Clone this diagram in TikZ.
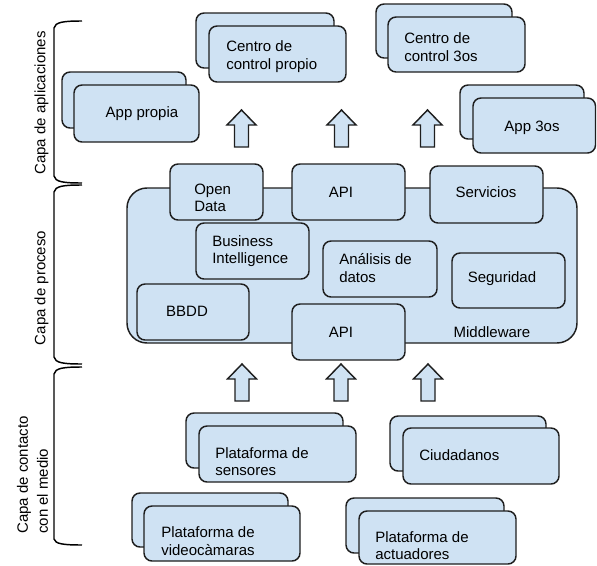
\documentclass[tikz,border=0pt]{standalone}
\usepackage{fontspec}
\setmainfont{Liberation Sans}
\usetikzlibrary{fit}
\definecolor{boxblue}{HTML}{CFE2F3}
\definecolor{linec}{HTML}{1E1E1E}
\tikzset{
  box/.style={draw=linec, fill=boxblue, line width=1.1pt, rounded corners=6pt, inner sep=0pt},
  bigbox/.style={box, rounded corners=15pt},
  txt/.style={font=\fontsize{11.25}{13.1}\selectfont, inner sep=0pt, align=left, text=black},
  sidetxt/.style={font=\fontsize{11.25}{15}\selectfont, inner sep=0pt, align=left, rotate=90, text=black},
  bracketline/.style={draw=black, line width=1.1pt},
  arrowshape/.style={draw=linec, fill=boxblue, line width=1.1pt, line join=miter},
  uparrow/.pic={\path[arrowshape] (0,0) -- (14.5,15) -- (7,15) -- (7,37) -- (-7,37) -- (-7,15) -- (-14.5,15) -- cycle;}
}
\begin{document}
\begin{tikzpicture}[x=0.75pt,y=-0.75pt]
\useasboundingbox (0,0) rectangle (597,565);

% brackets
\draw[bracketline] (82,21) .. controls (64,21) and (55,22) .. (54,28) -- (54,176) .. controls (55,182) and (64,183) .. (82,183);
\draw[bracketline] (82,185) .. controls (64,185) and (55,186) .. (54,192) -- (54,357) .. controls (55,363) and (64,364) .. (82,364);
\draw[bracketline] (82,367) .. controls (64,367) and (55,368) .. (54,374) -- (54,539) .. controls (55,544) and (64,545) .. (82,545);

\node[sidetxt] (capaApp) at (41.5,103) {Capa de aplicaciones};
\node[sidetxt] (capaProc) at (41.5,288) {Capa de proceso};
\node[sidetxt] (capaCont) at (32.5,475) {Capa de contacto\\con el medio};

% application layer
\node[box, fit={(62,72) (186,128)}] (appB) {};
\node[box, fit={(74,85) (199,142)}] (appF) {};
\node[txt] (appT) at (142,114) {App propia};

\node[box, fit={(196,13) (334,68)}] (ccpB) {};
\node[box, fit={(209,26) (346,82)}] (ccpF) {};
\node[txt, anchor=west] (ccpT) at (226,56.5) {Centro de\\control propio};

\node[box, fit={(376,4) (512,58)}] (cc3B) {};
\node[box, fit={(388,17) (525,72)}] (cc3F) {};
\node[txt, anchor=west] (cc3T) at (404,47) {Centro de\\control 3os};

\node[box, fit={(460,85) (584,139)}] (app3B) {};
\node[box, fit={(473,98) (595.5,153)}] (app3F) {};
\node[txt] (app3T) at (532,128) {App 3os};

% arrows top
\pic (ua1) at (241.5,110) {uparrow};
\pic (ua2) at (341.5,110) {uparrow};
\pic (ua3) at (427.5,110) {uparrow};

% middleware
\node[bigbox, fit={(127,188) (577,343)}] (mw) {};
\node[txt] (mwT) at (492,332) {Middleware};

\node[box, fit={(170,164) (263,220)}] (od) {};
\node[txt, anchor=west] (odT) at (194,198) {Open\\Data};

\node[box, fit={(292,164) (405,220)}] (apiT) {};
\node[txt] (apiTT) at (341,192) {API};

\node[box, fit={(430,166) (543,223)}] (serv) {};
\node[txt] (servT) at (486,192) {Servicios};

\node[box, fit={(196,223) (309,279)}] (bi) {};
\node[txt, anchor=west] (biT) at (212,251) {Business\\Intelligence};

\node[box, fit={(323,241) (437,297)}] (an) {};
\node[txt, anchor=west] (anT) at (339,268) {Análisis de\\datos};

\node[box, fit={(452,253) (565,308)}] (seg) {};
\node[txt] (segT) at (502,279) {Seguridad};

\node[box, fit={(137,284) (249,340)}] (bbdd) {};
\node[txt] (bbddT) at (187,311) {BBDD};

\node[box, fit={(292,304) (405,360)}] (apiB) {};
\node[txt] (apiBT) at (341,332) {API};

% arrows bottom
\pic (da1) at (242,364) {uparrow};
\pic (da2) at (341,364) {uparrow};
\pic (da3) at (428,364) {uparrow};

% contact layer
\node[box, fit={(186,413) (343,468)}] (senB) {};
\node[box, fit={(199,426) (356,482)}] (senF) {};
\node[txt, anchor=west] (senT) at (215,461.5) {Plataforma de\\sensores};

\node[box, fit={(390,416) (546,471)}] (ciuB) {};
\node[box, fit={(403,428) (559,484)}] (ciuF) {};
\node[txt, anchor=west] (ciuT) at (419,455) {Ciudadanos};

\node[box, fit={(132,493) (288,547)}] (vidB) {};
\node[box, fit={(144,506) (300,561)}] (vidF) {};
\node[txt, anchor=west] (vidT) at (161,541) {Plataforma de\\videocàmaras};

\node[box, fit={(346,498) (504,553)}] (actB) {};
\node[box, fit={(359,511) (516,564)}] (actF) {};
\node[txt, anchor=west] (actT) at (375,545.5) {Plataforma de\\actuadores};
\end{tikzpicture}
\end{document}
